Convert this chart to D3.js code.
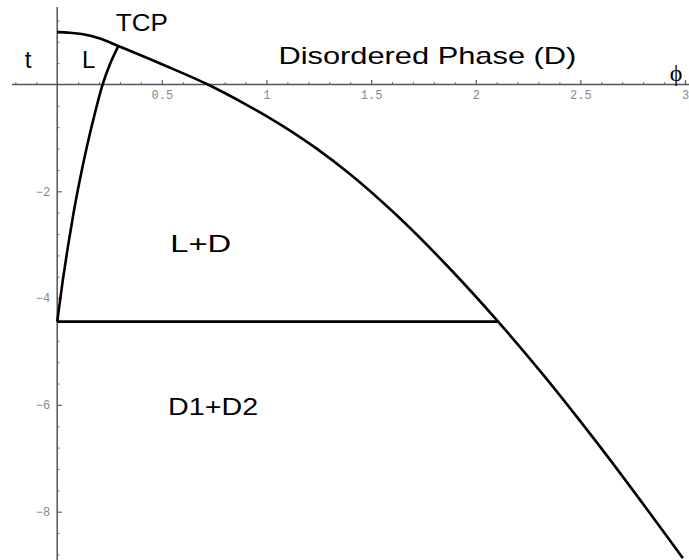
<!DOCTYPE html>
<html>
<meta charset="utf-8" />
<head>
<title>Phase diagram</title>
<style>
  body { margin: 0; background: #fff; }
</style>
</head>
<body>
  <div id="chart"></div>
  <script src="https://cdn.jsdelivr.net/npm/d3@7"></script>
  <script>
    // phase boundary D / (L+D) and D1+D2
    var upperPhi = [0, 0.06, 0.125, 0.204, 0.292, 0.50, 0.72, 0.905, 1.0, 1.24, 1.40, 1.62, 1.86, 2.107, 2.315, 2.57, 2.99];
    var upperT   = [0.98, 0.97, 0.94, 0.86, 0.72, 0.38, 0.0, -0.38, -0.59, -1.20, -1.68, -2.44, -3.38, -4.44, -5.40, -6.66, -8.87];

    // L / (L+D) boundary
    var lPhi = [0, 0.027, 0.051, 0.078, 0.108, 0.142, 0.180, 0.217, 0.252, 0.292];
    var lT   = [-4.44, -3.66, -3.04, -2.41, -1.79, -1.16, -0.54, 0, 0.38, 0.72];

    // three phase line
    var tiePhi = [0, 2.107];
    var tieT = [-4.44, -4.44];

    var xMajor = [0.5, 1, 1.5, 2, 2.5, 3];
    var yMajor = [-2, -4, -6, -8];

    var labels = [
      { text: "TCP", phi: 0.28, t: 1.0 },
      { text: "t", phi: -0.155, t: 0.31 },
      { text: "L", phi: 0.118, t: 0.31 },
      { text: "Disordered Phase (D)", phi: 1.057, t: 0.385 },
      { text: "L+D", phi: 0.54, t: -3.13 },
      { text: "D1+D2", phi: 0.53, t: -6.18 }
    ];
    var labelWidths = { "TCP": 52, "Disordered Phase (D)": 298, "L+D": 61, "D1+D2": 90 };

    var width = 689;
    var height = 560;

    var svg = d3.select("#chart").append("svg").attr("width", width).attr("height", height)
      .style("background", "#fff");

    var x = d3.scaleLinear().domain([0, 3]).range([57.2, 685]);
    var y = d3.scaleLinear().domain([0, -8]).range([84.5, 511.7]);

    // minor ticks
    var xMinor = d3.range(-2, 31).filter(function(i) { return i % 5 !== 0; }).map(function(i) { return i / 10; });
    var yMinor = d3.range(-22, 4).filter(function(i) { return i !== 0 && i % 5 !== 0; }).map(function(i) { return i * 0.4; });

    svg.append("g").attr("transform", "translate(0," + y(0) + ")")
      .call(d3.axisBottom(x).tickValues(xMinor).tickSize(-2.5).tickFormat(""))
      .call(function(g) { g.select(".domain").remove(); g.selectAll("line").attr("stroke", "#777"); });

    svg.append("g").attr("transform", "translate(0," + y(0) + ")")
      .call(d3.axisBottom(x).tickValues(xMajor).tickSize(-4.5).tickPadding(6).tickFormat(d3.format("")))
      .call(function(g) {
        g.select(".domain").remove();
        g.selectAll("line").attr("stroke", "#666").attr("stroke-width", 1.3);
        g.selectAll("text").attr("fill", "#888").style("font", "12px 'Liberation Mono', 'Courier New', monospace");
      });

    svg.append("g").attr("transform", "translate(" + x(0) + ",0)")
      .call(d3.axisLeft(y).tickValues(yMinor).tickSize(-2.5).tickFormat(""))
      .call(function(g) { g.select(".domain").remove(); g.selectAll("line").attr("stroke", "#777"); });

    svg.append("g").attr("transform", "translate(" + x(0) + ",0)")
      .call(d3.axisLeft(y).tickValues(yMajor).tickSize(-4.5).tickPadding(7))
      .call(function(g) {
        g.select(".domain").remove();
        g.selectAll("line").attr("stroke", "#666").attr("stroke-width", 1.3);
        g.selectAll("text").attr("fill", "#888").style("font", "12px 'Liberation Mono', 'Courier New', monospace");
      });

    // axis lines through the origin
    svg.append("line").attr("x1", x(-0.216)).attr("x2", width).attr("y1", y(0)).attr("y2", y(0))
      .attr("stroke", "#555").attr("stroke-width", 1.5);
    svg.append("line").attr("x1", x(0)).attr("x2", x(0)).attr("y1", y(1.45)).attr("y2", height)
      .attr("stroke", "#555").attr("stroke-width", 1.5);

    var line = d3.line().x(function(d) { return x(d[0]); }).y(function(d) { return y(d[1]); }).curve(d3.curveMonotoneX);

    function curve(phis, ts) {
      svg.append("path").datum(d3.zip(phis, ts)).attr("d", line)
        .attr("fill", "none").attr("stroke", "#000").attr("stroke-width", 2.6).attr("stroke-linejoin", "round");
    }
    curve(upperPhi, upperT);
    curve(lPhi, lT);
    curve(tiePhi, tieT);

    labels.forEach(function(l) {
      var t = svg.append("text").attr("x", x(l.phi)).attr("y", y(l.t)).text(l.text)
        .style("font", "24px 'Liberation Sans', Arial, sans-serif").attr("fill", "#000");
      if (labelWidths[l.text]) {
        t.attr("textLength", labelWidths[l.text]).attr("lengthAdjust", "spacingAndGlyphs");
      }
    });

    svg.append("text").attr("x", 676).attr("y", y(0) - 4).attr("text-anchor", "middle")
      .style("font", "24px 'Liberation Serif', 'DejaVu Serif', serif").text("\u03d5");
  </script>
</body>
</html>
